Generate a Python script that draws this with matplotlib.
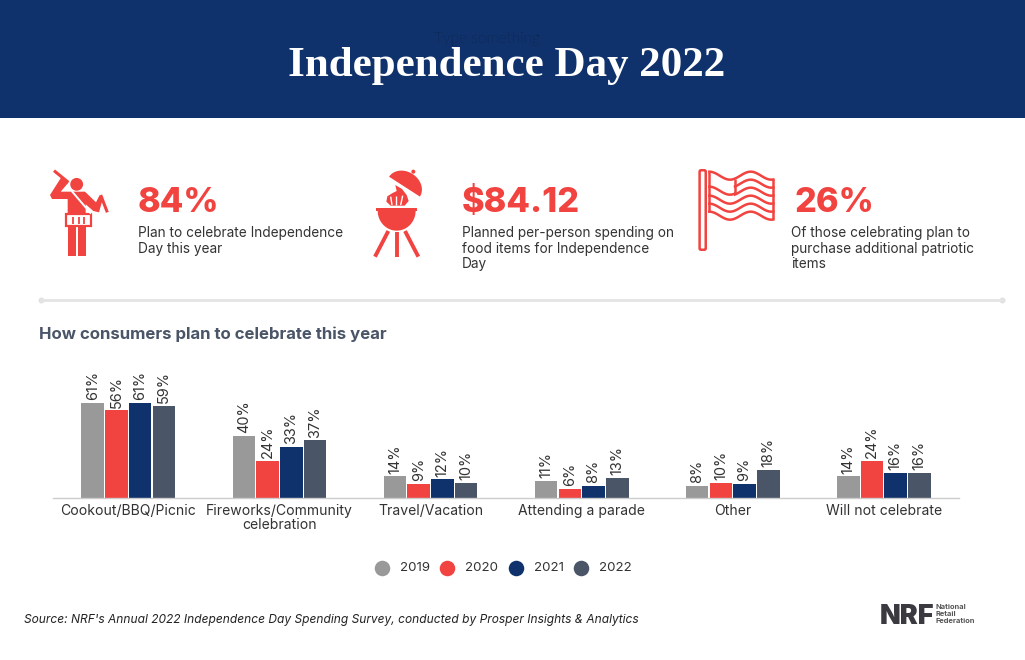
import numpy as np
import matplotlib
matplotlib.use("Agg")
import matplotlib.pyplot as plt
from matplotlib.patches import Circle, Polygon, Rectangle, FancyBboxPatch

# data
categories = ["Cookout/BBQ/Picnic", "Fireworks/Community\ncelebration", "Travel/Vacation",
              "Attending a parade", "Other", "Will not celebrate"]
years = ["2019", "2020", "2021", "2022"]
v2019 = [61, 40, 14, 11, 8, 14]
v2020 = [56, 24, 9, 6, 10, 24]
v2021 = [61, 33, 12, 8, 9, 16]
v2022 = [59, 37, 10, 13, 18, 16]
series = [v2019, v2020, v2021, v2022]

GRAY = "#999999"
RED = "#F1433F"
NAVY = "#0F326C"
SLATE = "#4A5568"
colors = [GRAY, RED, NAVY, SLATE]
TEXT = "#333333"
SANS = "Inter"

plt.rcParams["font.family"] = [SANS, "DejaVu Sans"]

fig = plt.figure(figsize=(10.25, 6.6), dpi=100)

# overlay in pixel coordinates for the header, icons and text
bg = fig.add_axes([0, 0, 1, 1])
bg.set_xlim(0, 1025)
bg.set_ylim(660, 0)
bg.axis("off")


def px(size):
    return size * 0.72


def zoomed(pts, ox, oy):
    return [(ox + x / 3, oy + y / 3) for x, y in pts]


def seg(a, b, ox, oy, lw, color=RED, cap="butt"):
    (x0, y0), (x1, y1) = zoomed([a, b], ox, oy)
    bg.plot([x0, x1], [y0, y1], color=color, lw=lw, solid_capstyle=cap)


# header
bg.add_patch(Rectangle((0, 0), 1025, 118, color=NAVY, lw=0))
bg.text(487, 39, "Type something", color="#0B1628", fontsize=px(15.5), ha="center", va="center",
        family="Lato", fontweight="light")
bg.text(507, 76, "Independence Day 2022", color="white", fontsize=px(43), ha="center",
        va="baseline", family="Liberation Serif", fontweight="bold")

# drummer icon
ox, oy = 30, 155
seg((72, 47), (115, 82), ox, oy, 2.2)
seg((212, 120), (232, 172), ox, oy, 2.2)
bg.add_patch(Polygon(zoomed([(60, 120), (95, 65), (116, 82), (92, 110), (165, 110), (198, 142),
                             (208, 122), (220, 126), (207, 172), (190, 168), (167, 148),
                             (167, 178), (113, 178), (113, 132), (66, 132)], ox, oy),
                     color=RED, lw=0))
bg.add_patch(Circle((ox + 140 / 3, oy + 88 / 3), 6.4, color=RED, lw=0))
seg((125, 108), (183, 176), ox, oy, 1.4, color="white")
bg.add_patch(Rectangle((ox + 108 / 3, oy + 178 / 3), 76 / 3, 36 / 3, fc="white", ec=RED, lw=1.6))
for zx in [130, 146, 162]:
    seg((zx, 187), (zx, 206), ox, oy, 1.3)
bg.add_patch(Rectangle((ox + 113 / 3, oy + 216 / 3), 24 / 3, 86 / 3, color=RED, lw=0))
bg.add_patch(Rectangle((ox + 143 / 3, oy + 216 / 3), 25 / 3, 86 / 3, color=RED, lw=0))

# grill icon
ox, oy = 360, 155
t = np.radians(np.linspace(180, 360, 40))
u = np.array([93, 60]) / np.hypot(93, 60)
n = np.array([60, -93]) / np.hypot(93, 60)
lid_x = 133.5 + 55 * np.cos(t) * u[0] - 45 * np.sin(t) * n[0]
lid_y = 95 + 55 * np.cos(t) * u[1] - 45 * np.sin(t) * n[1]
bg.add_patch(Polygon(zoomed(list(zip(lid_x, lid_y)), ox, oy), color=RED, lw=0))
bg.add_patch(Circle((ox + 160 / 3, oy + 50 / 3), 2, color=RED, lw=0))
bg.add_patch(Rectangle((ox + 48 / 3, oy + 158 / 3), 124 / 3, 9 / 3, color=RED, lw=0))
t = np.radians(np.linspace(0, 180, 30))
bg.add_patch(Polygon(zoomed(list(zip(110 + 57 * np.cos(t), 167 + 60 * np.sin(t))), ox, oy), color=RED, lw=0))
bg.add_patch(Polygon(zoomed([(106, 90), (126, 102), (140, 120), (146, 138), (134, 152), (92, 152),
                             (79, 140), (82, 124), (96, 115), (110, 108)], ox, oy), color=RED, lw=0))
seg((96, 150), (92, 125), ox, oy, 1, color="white")
seg((108, 150), (108, 122), ox, oy, 1, color="white")
seg((122, 150), (128, 122), ox, oy, 1, color="white")
seg((85, 228), (45, 305), ox, oy, 2.8)
seg((110, 232), (110, 307), ox, oy, 2.8)
seg((135, 228), (175, 305), ox, oy, 2.8)

# flag icon
ox, oy = 690, 155
bg.add_patch(FancyBboxPatch((ox + 33 / 3, oy + 50 / 3), 10 / 3, 230 / 3, boxstyle="round,pad=1.4",
                            fc="white", ec=RED, lw=1.8))
for y0, start in [(62, 58), (86, 135), (110, 135), (107, 58), (134, 58), (158, 58), (182, 58)]:
    zx = np.linspace(start, 135 if y0 == 107 else 250, 60)
    zy = y0 - 12 * np.cos(2 * np.pi * (zx - 58) / 124)
    pts = zoomed(list(zip(zx, zy)), ox, oy)
    bg.plot([p[0] for p in pts], [p[1] for p in pts], color=RED, lw=1.8)
seg((58, 50), (58, 170), ox, oy, 1.8)
seg((250, 72), (250, 192), ox, oy, 1.8)
seg((135, 72), (135, 117), ox, oy, 1.8)

# headline numbers and their text
stats = [(138, "84%", ["Plan to celebrate Independence", "Day this year"], 138),
         (462, "$84.12", ["Planned per-person spending on", "food items for Independence", "Day"], 462),
         (795, "26%", ["Of those celebrating plan to", "purchase additional patriotic", "items"], 791)]
for x, big, lines, tx in stats:
    bg.text(x, 212, big, color=RED, fontsize=px(34.3), fontweight="heavy", va="baseline")
    for i, line in enumerate(lines):
        bg.text(tx, 237 + i * 15.5, line, color=TEXT, fontsize=px(13.65), va="baseline")

# separator
bg.plot([41, 1002], [300, 300], color="#E4E4E4", lw=2)
bg.scatter([41, 1002], [300, 300], s=18, color="#E0E0E0", lw=0)

bg.text(39, 339, "How consumers plan to celebrate this year", color=SLATE, fontsize=px(16.75),
        fontweight="bold", va="baseline")

# bars
ax = fig.add_axes([52.8 / 1025, 1 - 498.3 / 660, 906.6 / 1025, 138.3 / 660])
ax.patch.set_alpha(0)
x = np.arange(len(categories))
width = 0.157
for i, vals in enumerate(series):
    bars = ax.bar(x + (i - 1.5) * width, vals, width * 0.95, color=colors[i], label=years[i])
    ax.bar_label(bars, labels=[f"{v}%" for v in vals], rotation=90, padding=2,
                 fontsize=px(14.5), color=TEXT)
ax.set_xlim(-0.5, 5.5)
ax.set_ylim(0, 88.2)
ax.set_xticks(x)
ax.set_xticklabels(categories, fontsize=px(14), color=TEXT, linespacing=1.05)
ax.tick_params(axis="x", length=0, pad=4)
ax.set_yticks([])
for name in ["top", "left", "right"]:
    ax.spines[name].set_visible(False)
ax.spines["bottom"].set_color("#CCCCCC")
ax.spines["bottom"].set_linewidth(1)

# legend
legend_x = [382, 447, 516, 581]
for lx, year, c in zip(legend_x, years, colors):
    bg.scatter([lx], [568], s=125, color=c, lw=0)
    bg.text(lx + 18, 568, year, color=TEXT, fontsize=px(13.3), va="center")

# footer
bg.text(24, 623, "Source: NRF's Annual 2022 Independence Day Spending Survey, conducted by Prosper Insights & Analytics",
        color="#222222", fontsize=px(11.96), style="italic", va="baseline")
bg.text(880, 624, "NRF", color="#3A3A40", fontsize=px(27), fontweight="black", va="baseline")
for i, word in enumerate(["National", "Retail", "Federation"]):
    bg.text(936, 609 + i * 7, word, color="#555555", fontsize=px(7.5), fontweight="bold", va="baseline")

fig.savefig("out.png", dpi=100)
